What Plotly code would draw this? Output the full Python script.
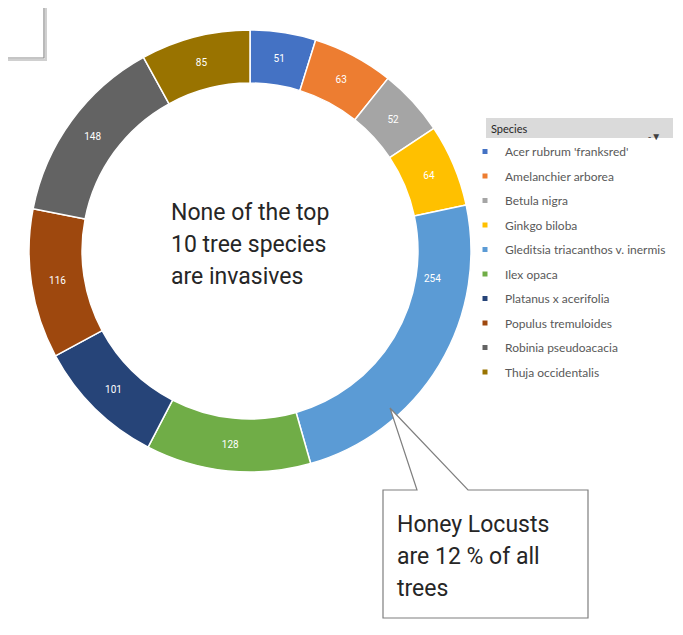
import plotly.graph_objects as go

W, H = 683, 635
OFF = 8  # page body margin in the screenshot

species = ["Acer rubrum 'franksred'", "Amelanchier arborea", "Betula nigra", "Ginkgo biloba",
           "Gleditsia triacanthos v. inermis", "Ilex opaca", "Platanus x acerifolia",
           "Populus tremuloides", "Robinia pseudoacacia", "Thuja occidentalis"]
counts = [51, 63, 52, 64, 254, 128, 101, 116, 148, 85]
colors = ["#4472C4", "#ED7D31", "#A5A5A5", "#FFC000", "#5B9BD5",
          "#70AD47", "#264478", "#9E480E", "#636363", "#997300"]

center_lines = ["None of the top", "10 tree species", "are invasives"]
callout_lines = ["Honey Locusts", "are 12 % of all", "trees"]
moved_label = 4  # the Gleditsia label was dragged up in the original


# page pixel -> paper coords
def px(x):
    return (x - OFF) / W


def py(y):
    return 1 - (y - OFF) / H


slice_text = ["" if i == moved_label else str(v) for i, v in enumerate(counts)]

fig = go.Figure()

fig.add_trace(go.Pie(
    labels=species,
    values=counts,
    text=slice_text,
    sort=False,
    direction="clockwise",
    rotation=0,
    hole=0.76,
    marker=dict(colors=colors, line=dict(color="white", width=1.5)),
    textinfo="text",
    textposition="inside",
    insidetextorientation="horizontal",
    textfont=dict(family="Roboto", size=10, color="white"),
    domain=dict(x=[px(29), px(471)], y=[py(472), py(30)]),
    showlegend=False,
))

# legend entries (one group per species so the gap can be set)
for name, col in zip(species, colors):
    fig.add_trace(go.Scatter(
        x=[None], y=[None], mode="markers", name=name,
        marker=dict(symbol="square", size=5, color=col),
        legendgroup=name, showlegend=True,
    ))

shapes = []
annotations = []

annotations.append(dict(x=px(432), y=py(278), xref="paper", yref="paper",
                        text=str(counts[moved_label]), showarrow=False,
                        font=dict(family="Roboto", size=10, color="white")))

# top-left partial box
shapes.append(dict(type="rect", xref="paper", yref="paper",
                   x0=px(-10), x1=px(46), y0=py(60), y1=py(-10),
                   line=dict(color="#d0d0d0", width=2), fillcolor="rgba(0,0,0,0)"))
shapes.append(dict(type="rect", xref="paper", yref="paper",
                   x0=px(-10), x1=px(44), y0=py(58), y1=py(-10),
                   line=dict(color="#8c8c8c", width=1.2), fillcolor="white"))

# legend header bar
shapes.append(dict(type="rect", xref="paper", yref="paper",
                   x0=px(486), x1=px(673), y0=py(138), y1=py(118),
                   line=dict(width=0), fillcolor="#dadada", layer="below"))
annotations.append(dict(x=px(489), y=py(128), xref="paper", yref="paper",
                        text="Species", showarrow=False, xanchor="left", yanchor="middle",
                        font=dict(family="Lato", size=11, color="#262626")))
annotations.append(dict(x=px(663), y=py(127), xref="paper", yref="paper",
                        text="-▼", showarrow=False, font=dict(size=10, color="#404040")))

# callout box with pointer
cx0, cx1, cy0, cy1 = 383, 588, 490, 618
path = (f"M {px(cx0)},{py(cy0)} L {px(417)},{py(cy0)} L {px(390)},{py(408)} "
        f"L {px(468)},{py(cy0)} L {px(cx1)},{py(cy0)} L {px(cx1)},{py(cy1)} "
        f"L {px(cx0)},{py(cy1)} Z")
shapes.append(dict(type="path", xref="paper", yref="paper", path=path,
                   line=dict(color="#7f7f7f", width=1.2), fillcolor="white"))

for i, t in enumerate(center_lines):
    annotations.append(dict(x=px(169), y=py(212 + i * 32), xref="paper", yref="paper",
                            text=t, showarrow=False, xanchor="left", yanchor="middle",
                            font=dict(family="Roboto", size=23, color="#262626")))
for i, t in enumerate(callout_lines):
    annotations.append(dict(x=px(395), y=py(524 + i * 32), xref="paper", yref="paper",
                            text=t, showarrow=False, xanchor="left", yanchor="middle",
                            font=dict(family="Roboto", size=23, color="#262626")))

fig.update_layout(
    width=W, height=H,
    margin=dict(l=0, r=0, t=0, b=0),
    paper_bgcolor="white", plot_bgcolor="white",
    xaxis=dict(visible=False), yaxis=dict(visible=False),
    shapes=shapes, annotations=annotations,
    legend=dict(
        x=px(465), y=py(137), xanchor="left", yanchor="top",
        font=dict(family="Lato", size=12, color="#595959"),
        bgcolor="rgba(0,0,0,0)", tracegroupgap=5.5, itemwidth=30,
        traceorder="grouped",
    ),
)

fig.write_html("out.html")
